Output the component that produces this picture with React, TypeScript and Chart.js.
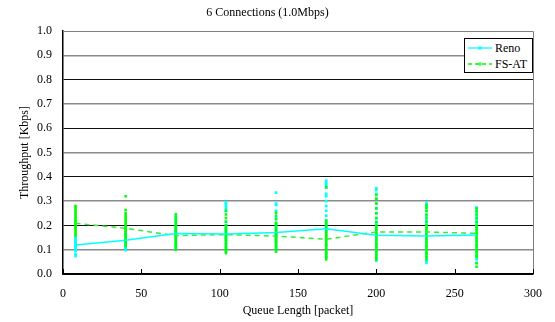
import React, { useEffect, useRef } from "react";
import { Chart, registerables } from "chart.js";
Chart.register(...registerables);

const chartTitle = "6 Connections (1.0Mbps)";
const xTitle = "Queue Length [packet]";
const yTitle = "Throughput [Kbps]";
const seriesNames = ["Reno", "FS-AT"];
const xTicks = [0, 50, 100, 150, 200, 250, 300];
const queueLengths = [8, 40, 72, 104, 136, 168, 200, 232, 264];
const renoMean = [0.119, 0.139, 0.167, 0.165, 0.171, 0.186, 0.159, 0.156, 0.16];
const fsatMean = [0.209, 0.188, 0.158, 0.162, 0.156, 0.143, 0.173, 0.173, 0.167];

const renoSamples = [
  [0.074, 0.082, 0.095, 0.1, 0.104, 0.108, 0.112, 0.115, 0.118, 0.121, 0.125, 0.13, 0.135, 0.14, 0.146, 0.152],
  [0.098, 0.103, 0.108, 0.112, 0.118, 0.125, 0.132, 0.14, 0.148, 0.155, 0.163, 0.17, 0.18, 0.19],
  [0.1, 0.112, 0.125, 0.135, 0.145, 0.155, 0.165, 0.172, 0.18, 0.19, 0.2, 0.21, 0.225, 0.238],
  [0.095, 0.11, 0.125, 0.14, 0.15, 0.158, 0.165, 0.172, 0.18, 0.19, 0.2, 0.215, 0.26, 0.27, 0.28, 0.29, 0.296],
  [0.1, 0.115, 0.13, 0.14, 0.15, 0.16, 0.165, 0.17, 0.18, 0.19, 0.2, 0.21, 0.23, 0.26, 0.284, 0.29, 0.335],
  [0.07, 0.085, 0.1, 0.12, 0.14, 0.16, 0.175, 0.19, 0.2, 0.21, 0.22, 0.24, 0.26, 0.28, 0.3, 0.32, 0.33, 0.355, 0.365, 0.375, 0.384],
  [0.055, 0.065, 0.08, 0.095, 0.11, 0.125, 0.14, 0.155, 0.165, 0.18, 0.195, 0.21, 0.23, 0.25, 0.27, 0.29, 0.31, 0.33, 0.345, 0.353],
  [0.046, 0.055, 0.07, 0.085, 0.1, 0.115, 0.13, 0.145, 0.16, 0.175, 0.19, 0.205, 0.22, 0.24, 0.26, 0.275, 0.285, 0.293],
  [0.045, 0.06, 0.075, 0.09, 0.105, 0.12, 0.135, 0.15, 0.165, 0.18, 0.195, 0.21, 0.225, 0.24, 0.255, 0.265, 0.273],
];

const fsatSamples = [
  [0.158, 0.165, 0.172, 0.18, 0.186, 0.192, 0.198, 0.204, 0.21, 0.216, 0.222, 0.228, 0.235, 0.242, 0.25, 0.258, 0.266, 0.274, 0.28],
  [0.115, 0.122, 0.13, 0.138, 0.146, 0.154, 0.162, 0.17, 0.178, 0.186, 0.194, 0.202, 0.21, 0.218, 0.226, 0.234, 0.242, 0.25, 0.263, 0.32],
  [0.1, 0.108, 0.116, 0.124, 0.132, 0.14, 0.148, 0.156, 0.164, 0.172, 0.18, 0.188, 0.196, 0.204, 0.215, 0.225, 0.235, 0.246],
  [0.086, 0.094, 0.102, 0.11, 0.118, 0.126, 0.134, 0.142, 0.15, 0.158, 0.166, 0.174, 0.182, 0.19, 0.2, 0.215, 0.23, 0.245, 0.26],
  [0.092, 0.1, 0.108, 0.116, 0.124, 0.132, 0.14, 0.148, 0.156, 0.164, 0.172, 0.18, 0.19, 0.2, 0.21, 0.225, 0.24, 0.252],
  [0.06, 0.068, 0.076, 0.084, 0.092, 0.1, 0.108, 0.116, 0.124, 0.132, 0.14, 0.148, 0.156, 0.164, 0.172, 0.18, 0.19, 0.2, 0.21, 0.22, 0.357],
  [0.06, 0.07, 0.08, 0.09, 0.1, 0.11, 0.12, 0.13, 0.14, 0.15, 0.16, 0.17, 0.18, 0.19, 0.2, 0.215, 0.23, 0.25, 0.27, 0.29, 0.31, 0.325],
  [0.06, 0.07, 0.08, 0.09, 0.1, 0.11, 0.12, 0.13, 0.14, 0.15, 0.16, 0.17, 0.18, 0.19, 0.2, 0.215, 0.23, 0.245, 0.26, 0.272, 0.283],
  [0.03, 0.045, 0.07, 0.08, 0.09, 0.1, 0.11, 0.12, 0.13, 0.14, 0.15, 0.16, 0.17, 0.18, 0.19, 0.2, 0.215, 0.23, 0.245, 0.258, 0.27],
];

const renoColor = "#00ffff";
const fsatColor = "#00ff00";
const fsatLineColor = "#33ee33";
const fontFamily = "'Liberation Serif', 'Times New Roman', serif";
const fontSize = 12;

function flatten(samples: number[][]) {
  const out: { x: number; y: number }[] = [];
  samples.forEach((arr, i) => arr.forEach((v) => out.push({ x: queueLengths[i], y: v })));
  return out;
}

const framePlugin = {
  id: "frame",
  afterDraw(chart: any) {
    const { ctx, chartArea } = chart;
    const xs = chart.scales.x;
    ctx.save();
    ctx.lineWidth = 1;
    ctx.strokeStyle = "#808080";
    ctx.beginPath();
    ctx.moveTo(chartArea.left, chartArea.top + 0.5);
    ctx.lineTo(chartArea.right + 0.5, chartArea.top + 0.5);
    ctx.lineTo(chartArea.right + 0.5, chartArea.bottom);
    ctx.stroke();
    ctx.strokeStyle = "#000";
    ctx.beginPath();
    xTicks.forEach((t) => {
      const px = Math.round(xs.getPixelForValue(t)) + 0.5;
      ctx.moveTo(px, chartArea.bottom);
      ctx.lineTo(px, chartArea.bottom - 5);
    });
    ctx.stroke();
    ctx.restore();
  },
};

function LegendSample({ color, dashed }: { color: string; dashed: boolean }) {
  return (
    <svg width="26" height="10" style={{ display: "block" }}>
      <line x1="1" y1="5" x2="25" y2="5" stroke={color} strokeWidth="1.3" strokeDasharray={dashed ? "4 3" : undefined} />
      {dashed ? (
        <g stroke={color} strokeWidth="1">
          <line x1="11" y1="5" x2="15" y2="5" />
          <line x1="13" y1="3" x2="13" y2="7" />
        </g>
      ) : (
        <rect x="11.5" y="3.5" width="3" height="3" fill={color} />
      )}
    </svg>
  );
}

export default function App() {
  const canvasRef = useRef<HTMLCanvasElement | null>(null);

  useEffect(() => {
    document.body.style.margin = "0";
    const canvas = canvasRef.current;
    if (!canvas) return;
    Chart.defaults.font.family = fontFamily;
    Chart.defaults.font.size = fontSize;
    Chart.defaults.color = "#000";

    const chart = new Chart(canvas, {
      type: "scatter",
      data: {
        datasets: [
          {
            label: seriesNames[0] + " mean",
            data: queueLengths.map((q, i) => ({ x: q, y: renoMean[i] })),
            showLine: true,
            borderColor: renoColor,
            borderWidth: 1.5,
            pointRadius: 0,
            order: 0,
          },
          {
            label: seriesNames[1] + " mean",
            data: queueLengths.map((q, i) => ({ x: q, y: fsatMean[i] })),
            showLine: true,
            borderColor: fsatLineColor,
            borderWidth: 1.5,
            borderDash: [5, 4],
            pointRadius: 0,
            order: 1,
          },
          {
            label: seriesNames[1],
            data: flatten(fsatSamples),
            pointStyle: "rect",
            pointRadius: 1.8,
            backgroundColor: fsatColor,
            borderWidth: 0,
            order: 2,
          },
          {
            label: seriesNames[0],
            data: flatten(renoSamples),
            pointStyle: "rect",
            pointRadius: 1.9,
            backgroundColor: renoColor,
            borderWidth: 0,
            order: 3,
          },
        ],
      },
      options: {
        animation: false,
        responsive: false,
        events: [],
        layout: { padding: { left: 0, right: 20, top: 0, bottom: 0 } },
        plugins: {
          legend: { display: false },
          tooltip: { enabled: false },
          title: {
            display: true,
            text: chartTitle,
            font: { size: fontSize, weight: "normal" },
            padding: { top: 5.5, bottom: 11.1 },
          },
        },
        scales: {
          x: {
            type: "linear",
            min: 0,
            max: 300,
            afterFit: (s: any) => {
              s.height = 48;
            },
            ticks: { stepSize: 50, padding: 13, font: { size: fontSize } },
            grid: { display: false, drawTicks: false },
            border: { display: true, color: "#000", width: 1.5 },
            title: { display: true, text: xTitle, font: { size: fontSize }, padding: { top: 0, bottom: 3.8 } },
          },
          y: {
            min: 0,
            max: 1,
            afterFit: (s: any) => {
              s.width = 63;
            },
            ticks: {
              stepSize: 0.1,
              padding: 11,
              font: { size: fontSize },
              callback: (v: any) => Number(v).toFixed(1),
            },
            grid: {
              drawTicks: false,
              color: (c: any) => (Math.round(c.tick.value * 10) % 2 === 1 ? "#8a8a8a" : "#111"),
              lineWidth: (c: any) => (Math.round(c.tick.value * 10) % 2 === 1 ? 1.5 : 1),
            },
            border: { display: true, color: "#000", width: 1.5 },
            title: { display: true, text: yTitle, font: { size: fontSize }, padding: { top: 17.5, bottom: 0 } },
          },
        },
      },
      plugins: [framePlugin],
    } as any);

    return () => chart.destroy();
  }, []);

  return (
    <div style={{ position: "relative", width: 555, height: 322, background: "#fff" }}>
      <canvas ref={canvasRef} width={555} height={322} style={{ display: "block" }} />
      <div
        style={{
          position: "absolute",
          left: 464,
          top: 38,
          width: 67,
          height: 33,
          border: "1px solid #000",
          background: "#fff",
          fontFamily: fontFamily,
          fontSize: fontSize,
          color: "#000",
          boxSizing: "content-box",
        }}
      >
        <div style={{ display: "flex", alignItems: "center", height: 16, paddingLeft: 2, marginTop: 1 }}>
          <LegendSample color={renoColor} dashed={false} />
          <span style={{ marginLeft: 2 }}>{seriesNames[0]}</span>
        </div>
        <div style={{ display: "flex", alignItems: "center", height: 16, paddingLeft: 2 }}>
          <LegendSample color={fsatColor} dashed={true} />
          <span style={{ marginLeft: 2 }}>{seriesNames[1]}</span>
        </div>
      </div>
    </div>
  );
}
